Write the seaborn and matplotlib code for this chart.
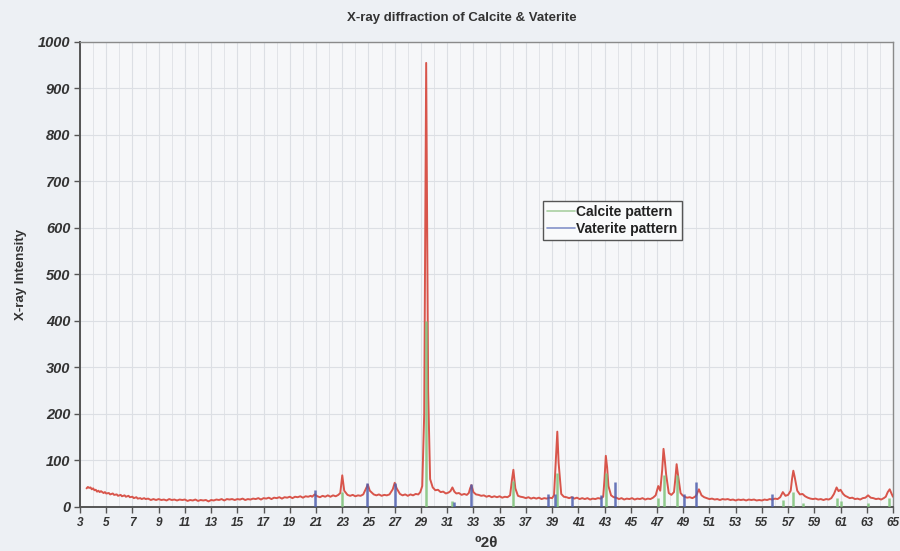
import numpy as np
import pandas as pd
import matplotlib
matplotlib.use("Agg")
import matplotlib.pyplot as plt
from matplotlib.lines import Line2D
from matplotlib.ticker import MultipleLocator
import seaborn as sns

# ---------------- data ----------------
two_theta = [
    3.5, 3.6, 3.7, 3.8, 3.9, 4.0, 4.1, 4.2, 4.3, 4.4, 4.5, 4.6, 4.8, 4.9, 5.0, 5.2, 5.3, 5.5, 5.6, 5.8,
    5.9, 6.1, 6.2, 6.4, 6.5, 6.7, 6.8, 7.0, 7.1, 7.3, 7.4, 7.6, 7.7, 7.9, 8.0, 8.2, 8.4, 8.6, 8.8, 9.0,
    9.2, 9.4, 9.6, 9.8, 10.0, 10.2, 10.4, 10.6, 10.8, 11.0, 11.2, 11.4, 11.6, 11.8, 12.0, 12.2, 12.4, 12.6, 12.8, 13.0,
    13.2, 13.4, 13.6, 13.8, 14.0, 14.2, 14.4, 14.6, 14.8, 15.0, 15.2, 15.4, 15.6, 15.8, 16.0, 16.2, 16.4, 16.6, 16.8, 17.0,
    17.2, 17.4, 17.6, 17.8, 18.0, 18.2, 18.4, 18.6, 18.8, 19.0, 19.2, 19.4, 19.6, 19.8, 20.0, 20.2, 20.4, 20.6, 20.7, 20.9,
    21.1, 21.3, 21.5, 21.7, 21.9, 22.1, 22.3, 22.5, 22.7, 22.85, 23.0, 23.15,
    23.4, 23.6, 23.8, 24.0, 24.2, 24.4, 24.6, 24.85, 24.95, 25.1,
    25.4, 25.6, 25.8, 26.0, 26.2, 26.4, 26.6, 26.85, 27.0, 27.15,
    27.4, 27.6, 27.8, 28.0, 28.2, 28.4, 28.6, 28.8, 28.95, 29.1, 29.25, 29.4, 29.55, 29.7,
    29.9, 30.1, 30.3, 30.5, 30.7, 30.9, 31.1, 31.25, 31.4,
    31.55, 31.7, 31.9, 32.1, 32.3, 32.5, 32.65, 32.75, 32.85,
    33.0, 33.2, 33.4, 33.6, 33.8, 34.0, 34.2, 34.4, 34.6, 34.8, 35.0, 35.2, 35.4, 35.6, 35.8, 35.95, 36.05, 36.2,
    36.4, 36.6, 36.8, 37.0, 37.2, 37.4, 37.6, 37.8, 38.0, 38.2, 38.4, 38.6, 38.8, 39.0, 39.15, 39.3, 39.4, 39.5,
    39.7, 39.9, 40.1, 40.3, 40.5, 40.7, 40.9, 41.1, 41.3, 41.5, 41.7, 41.9, 42.1, 42.3, 42.5, 42.7, 42.9, 43.0, 43.1, 43.2, 43.3,
    43.5, 43.7, 43.9, 44.1, 44.3, 44.5, 44.7, 44.9, 45.1, 45.3, 45.5, 45.7, 45.9, 46.1, 46.3, 46.5, 46.7, 46.9,
    47.1, 47.25, 47.4, 47.5, 47.6, 47.7, 47.9, 48.1, 48.3, 48.4, 48.5, 48.6, 48.8, 48.95,
    49.1, 49.3, 49.5, 49.7, 49.9, 50.0, 50.2, 50.4, 50.6, 50.8,
    51.0, 51.2, 51.4, 51.6, 51.8, 52.0, 52.2, 52.4, 52.6, 52.8, 53.0, 53.2, 53.4, 53.6, 53.8, 54.0, 54.2, 54.4, 54.6, 54.8,
    55.0, 55.2, 55.4, 55.6, 55.8, 56.0, 56.2, 56.4,
    56.6, 56.8, 57.0, 57.2, 57.3, 57.4, 57.5, 57.7, 57.9, 58.1, 58.3,
    58.5, 58.7, 58.9, 59.1, 59.3, 59.5, 59.7, 59.9, 60.1, 60.3,
    60.5, 60.6, 60.7, 60.85, 61.0, 61.2, 61.35,
    61.5, 61.7, 61.9, 62.1, 62.3, 62.5, 62.7, 62.9, 63.1, 63.3, 63.5, 63.7, 63.9, 64.1, 64.3, 64.45,
    64.6, 64.75, 64.9, 65.0]
intensity = [
    40, 43, 41, 42, 38, 40, 36, 37, 33, 35, 32, 34, 30, 32, 29, 30, 27, 29, 26, 27,
    24, 26, 23, 25, 22, 24, 21, 22, 19, 21, 18, 19, 17, 19, 17, 18, 15, 17, 15, 17,
    15, 16, 14, 17, 15, 16, 14, 16, 15, 16, 13, 15, 14, 16, 13, 15, 14, 15, 12, 15,
    14, 16, 15, 17, 14, 17, 16, 17, 15, 17, 16, 18, 15, 17, 16, 18, 17, 19, 16, 19,
    18, 20, 17, 20, 19, 21, 18, 21, 20, 22, 19, 22, 21, 23, 20, 23, 22, 24, 22, 27,
    23, 21, 24, 22, 25, 22, 25, 23, 26, 30, 68, 35,
    26, 24, 26, 23, 25, 24, 27, 42, 48, 35,
    27, 25, 27, 24, 26, 25, 27, 38, 52, 40,
    28, 25, 27, 24, 27, 25, 28, 27, 32, 45, 200, 955, 250, 60,
    42, 36, 37, 32, 33, 29, 31, 34, 42,
    33, 29, 30, 26, 28, 26, 30, 40, 47,
    32, 27, 26, 24, 25, 22, 24, 21, 23, 21, 23, 20, 22, 21, 25, 60, 80, 40,
    24, 22, 21, 19, 21, 18, 20, 18, 20, 17, 19, 18, 20, 19, 25, 110, 162, 95,
    28, 22, 21, 19, 21, 18, 20, 17, 19, 17, 19, 16, 18, 17, 19, 18, 22, 60, 110, 85, 45,
    25, 21, 20, 17, 19, 16, 18, 17, 19, 16, 18, 17, 19, 16, 18, 17, 20, 25,
    45, 35, 80, 125, 100, 70, 30, 26, 32, 60, 92, 70, 30, 25,
    22, 20, 21, 19, 22, 25, 38, 25, 21, 19,
    17, 18, 16, 17, 15, 17, 16, 17, 15, 16, 14, 16, 15, 16, 14, 16, 15, 16, 14, 15,
    14, 16, 15, 17, 16, 18, 17, 21,
    32, 24, 26, 35, 60, 78, 65, 35, 27, 28, 23,
    20, 18, 17, 18, 16, 17, 15, 17, 16, 19,
    28, 35, 42, 34, 37, 28, 24,
    22, 19, 20, 17, 18, 16, 19, 20, 25, 20, 19, 17, 18, 16, 19, 22,
    32, 38, 28, 22]

calcite_pos = [23.0, 29.4, 31.4, 36.0, 39.4, 43.1, 47.1, 47.5, 48.5, 56.6, 57.4, 58.1, 60.7, 61.0, 63.1, 64.7]
calcite_int = [32, 400, 12, 56, 72, 72, 20, 68, 68, 16, 32, 8, 20, 12, 8, 20]

vaterite_pos = [20.9, 24.9, 27.0, 31.5, 32.8, 38.7, 39.2, 40.5, 42.7, 43.8, 49.1, 50.0, 55.8]
vaterite_int = [36, 52, 52, 10, 50, 28, 28, 24, 26, 53, 28, 53, 27]

x_ticks = list(range(3, 66, 2))
y_ticks = list(range(0, 1001, 100))

title = "X-ray diffraction of Calcite & Vaterite"
x_label = "⁰2θ"
y_label = "X-ray Intensity"
legend_labels = ["Calcite pattern", "Vaterite pattern"]

# ---------------- styling ----------------
sns.set_theme(style="white")
plt.rcParams['font.family'] = ['Liberation Sans', 'DejaVu Sans']

fig = plt.figure(figsize=(9, 5.51), dpi=100, facecolor="#edf0f4")
ax = fig.add_axes([0.0889, 0.0799, 0.9033, 0.8439])
ax.set_facecolor("#f6f7f9")

df = pd.DataFrame({"two_theta": two_theta, "intensity": intensity})
sns.lineplot(data=df, x="two_theta", y="intensity", ax=ax, color="#d8554b",
             linewidth=1.4, sort=False, zorder=3)

green = "#7fc27a"
blue = "#4f5fae"
ax.vlines(calcite_pos, 0, calcite_int, colors=green, linewidth=1.8, alpha=0.85, zorder=4)
ax.vlines(vaterite_pos, 0, vaterite_int, colors=blue, linewidth=1.8, alpha=0.85, zorder=4)

ax.set_xlim(3, 65)
ax.set_ylim(0, 1000)
ax.set_xticks(x_ticks)
ax.set_yticks(y_ticks)
ax.xaxis.set_minor_locator(MultipleLocator(1))
ax.grid(which="major", axis="both", color="#dcdfe4", linewidth=0.8, zorder=0)
ax.grid(which="minor", axis="x", color="#e2e4e8", linewidth=0.7, zorder=0)
ax.set_axisbelow(True)

for lab in ax.get_xticklabels():
    lab.set_fontweight("bold"); lab.set_fontstyle("italic"); lab.set_fontsize(8.5); lab.set_color("#333333")
for lab in ax.get_yticklabels():
    lab.set_fontweight("bold"); lab.set_fontstyle("italic"); lab.set_fontsize(10.5); lab.set_color("#333333")

ax.tick_params(axis="both", which="major", direction="out", length=4, width=1, color="#555555",
               bottom=True, left=True, pad=3)
ax.tick_params(axis="x", which="minor", bottom=False)

for side in ["left", "bottom"]:
    ax.spines[side].set_color("#555555"); ax.spines[side].set_linewidth(1.4)
for side in ["top", "right"]:
    ax.spines[side].set_color("#8a8a8a"); ax.spines[side].set_linewidth(1.0)
    ax.spines[side].set_visible(True)

ax.set_xlabel(x_label, fontsize=11, fontweight="bold", color="#333333", labelpad=5)
ax.set_ylabel(y_label, fontsize=9.5, fontweight="bold", color="#333333", labelpad=8)
fig.text(0.513, 0.968, title, ha="center", va="center", fontsize=9.5, fontweight="bold", color="#333333")

handles = [Line2D([0], [0], color="#a9cfa2", linewidth=1.2),
           Line2D([0], [0], color="#8492c9", linewidth=1.2)]
leg = ax.legend(handles, legend_labels, loc="upper left", bbox_to_anchor=(0.561, 0.674),
                frameon=True, fancybox=False, handlelength=2.0, handletextpad=0.1,
                borderpad=0.3, labelspacing=0.25, prop={"weight": "bold", "size": 10})
leg.get_frame().set_edgecolor("#555555")
leg.get_frame().set_linewidth(1.0)
leg.get_frame().set_facecolor("#f9fafb")
leg.get_frame().set_alpha(1)
for t in leg.get_texts():
    t.set_color("#222222")

fig.savefig("out.png", dpi=100, facecolor=fig.get_facecolor())
